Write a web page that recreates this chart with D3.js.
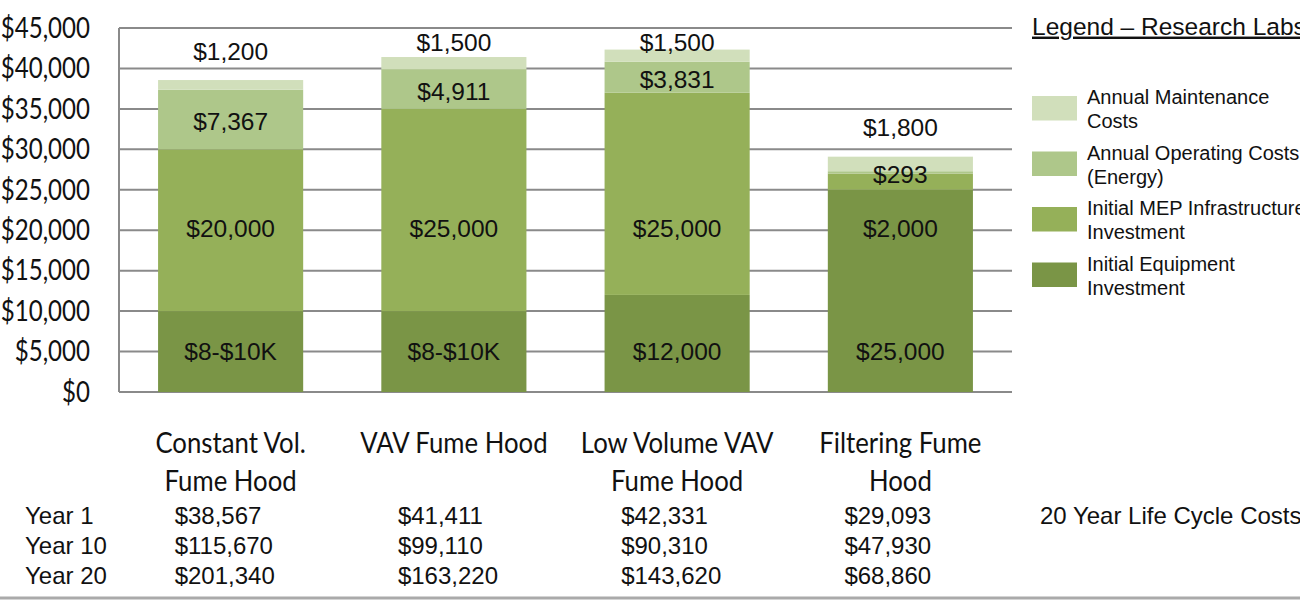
<!DOCTYPE html>
<html>
<head>
<meta charset="utf-8">
<script src="https://cdn.jsdelivr.net/npm/d3@7"></script>
<style>
  body { margin: 0; background: #fff; }
  .arial { font-family: "Liberation Sans", Arial, sans-serif; fill: #111; }
  .calib { font-family: Lato, "Open Sans", sans-serif; fill: #111; }
</style>
</head>
<body>
<script>
  var width = 1300;
  var height = 600;

  // chart data
  var categories = [["Constant Vol.", "Fume Hood"], ["VAV Fume Hood"], ["Low Volume VAV", "Fume Hood"], ["Filtering Fume", "Hood"]];
  var equipment = [10000, 10000, 12000, 25000];
  var mep = [20000, 25000, 25000, 2000];
  var operating = [7367, 4911, 3831, 293];
  var maintenance = [1200, 1500, 1500, 1800];
  var equipmentLabels = ["$8-$10K", "$8-$10K", "$12,000", "$25,000"];
  var yTicks = [0, 5000, 10000, 15000, 20000, 25000, 30000, 35000, 40000, 45000];

  var seriesNames = ["Annual Maintenance Costs", "Annual Operating Costs (Energy)", "Initial MEP Infrastructure Investment", "Initial Equipment Investment"];
  var legendLines = [["Annual Maintenance", "Costs"], ["Annual Operating Costs", "(Energy)"], ["Initial MEP Infrastructure", "Investment"], ["Initial Equipment", "Investment"]];
  var colors = ["#d1dfbb", "#aec78a", "#95b059", "#7a9546"];

  var yearLabels = ["Year 1", "Year 10", "Year 20"];
  var yearCosts = [
    [38567, 41411, 42331, 29093],
    [115670, 99110, 90310, 47930],
    [201340, 163220, 143620, 68860]
  ];
  var tableNote = "20 Year Life Cycle Costs";

  var money = d3.format("$,");

  var svg = d3.select("body")
    .append("svg")
    .attr("width", width)
    .attr("height", height);

  var x = d3.scaleBand()
    .domain(d3.range(categories.length))
    .range([119, 1012])
    .paddingInner(0.35)
    .paddingOuter(0.175);

  var y = d3.scaleLinear()
    .domain([0, 45000])
    .range([392, 28]);

  // gridlines
  svg.append("g")
    .selectAll("line")
    .data(yTicks)
    .enter()
    .append("line")
    .attr("x1", 119)
    .attr("x2", 1012)
    .attr("y1", function(d) { return y(d); })
    .attr("y2", function(d) { return y(d); })
    .style("stroke", "#8a8a8a")
    .style("stroke-width", 2);

  svg.append("line")
    .attr("x1", 119).attr("x2", 119)
    .attr("y1", y(45000)).attr("y2", y(0))
    .style("stroke", "#8a8a8a")
    .style("stroke-width", 2);

  // y tick labels (condensed a bit to look like the original Calibri)
  svg.append("g")
    .selectAll("text")
    .data(yTicks)
    .enter()
    .append("text")
    .attr("class", "calib")
    .attr("transform", function(d) { return "translate(90," + y(d) + ") scale(0.86,1)"; })
    .attr("dy", "0.35em")
    .attr("text-anchor", "end")
    .style("font-size", "28px")
    .text(function(d) { return money(d); });

  // stack bottom -> top: equipment, mep, operating, maintenance
  var rows = categories.map(function(c, i) {
    return { i: i, equipment: equipment[i], mep: mep[i], operating: operating[i], maintenance: maintenance[i] };
  });
  var keys = ["equipment", "mep", "operating", "maintenance"];
  var stack = d3.stack().keys(keys)(rows);
  var keyColor = { equipment: colors[3], mep: colors[2], operating: colors[1], maintenance: colors[0] };

  svg.append("g")
    .selectAll("g")
    .data(stack)
    .enter()
    .append("g")
    .style("fill", function(s) { return keyColor[s.key]; })
    .selectAll("rect")
    .data(function(s) { return s; })
    .enter()
    .append("rect")
    .attr("x", function(d) { return x(d.data.i); })
    .attr("width", x.bandwidth())
    .attr("y", function(d) { return y(d[1]); })
    .attr("height", function(d) { return y(d[0]) - y(d[1]); });

  // segment labels
  var labels = svg.append("g");
  rows.forEach(function(r, i) {
    var cx = x(i) + x.bandwidth() / 2;
    var top = y(stack[3][i][1]);
    var items = [
      { t: equipmentLabels[i], y: y(5000) },
      { t: money(r.mep), y: y(20000) - 2 },
      { t: money(r.operating), y: (y(stack[2][i][0]) + y(stack[2][i][1])) / 2 + 2 },
      { t: money(r.maintenance), y: Math.max(top - 29, 42) }
    ];
    items.forEach(function(it) {
      labels.append("text")
        .attr("class", "arial")
        .attr("x", cx)
        .attr("y", it.y)
        .attr("dy", "0.35em")
        .attr("text-anchor", "middle")
        .style("font-size", "24.5px")
        .text(it.t);
    });
  });

  // category labels
  svg.append("g")
    .selectAll("text")
    .data(categories)
    .enter()
    .append("text")
    .attr("class", "calib")
    .attr("text-anchor", "middle")
    .attr("transform", function(d, i) { return "translate(" + (x(i) + x.bandwidth() / 2) + ",443) scale(0.92,1)"; })
    .style("font-size", "28px")
    .each(function(lines) {
      d3.select(this).selectAll("tspan")
        .data(lines)
        .enter()
        .append("tspan")
        .attr("x", 0)
        .attr("y", function(d, j) { return j * 38; })
        .attr("dy", "0.35em")
        .text(function(d) { return d; });
    });

  // legend
  var lx = 1032;
  svg.append("text")
    .attr("class", "arial")
    .attr("x", lx)
    .attr("y", 26)
    .attr("dy", "0.35em")
    .style("font-size", "24.5px")
    .style("text-decoration", "underline")
    .text("Legend \u2013 Research Labs");

  var leg = svg.append("g")
    .selectAll("g")
    .data(seriesNames)
    .enter()
    .append("g")
    .attr("transform", function(d, i) { return "translate(" + lx + "," + (96 + i * 55.5) + ")"; });

  leg.append("rect")
    .attr("width", 45)
    .attr("height", 24.5)
    .style("fill", function(d, i) { return colors[i]; });

  leg.append("text")
    .attr("class", "arial")
    .style("font-size", "20px")
    .each(function(d, i) {
      d3.select(this).selectAll("tspan")
        .data(legendLines[i])
        .enter()
        .append("tspan")
        .attr("x", 55)
        .attr("y", function(t, j) { return 1 + j * 24; })
        .attr("dy", "0.35em")
        .text(function(t) { return t; });
    });

  // life cycle cost table
  var table = svg.append("g");
  yearLabels.forEach(function(lab, r) {
    var ty = 516 + r * 30;
    table.append("text")
      .attr("class", "arial")
      .attr("x", 25)
      .attr("y", ty)
      .attr("dy", "0.35em")
      .style("font-size", "24px")
      .text(lab);
    yearCosts[r].forEach(function(v, i) {
      table.append("text")
        .attr("class", "arial")
        .attr("x", x(i) + x.bandwidth() / 2 - 56)
        .attr("y", ty)
        .attr("dy", "0.35em")
        .style("font-size", "24px")
        .text(money(v));
    });
  });
  table.append("text")
    .attr("class", "arial")
    .attr("x", lx + 8)
    .attr("y", 516)
    .attr("dy", "0.35em")
    .style("font-size", "24px")
    .text(tableNote);

  svg.append("line")
    .attr("x1", 0).attr("x2", width)
    .attr("y1", 598).attr("y2", 598)
    .style("stroke", "#aaaaaa")
    .style("stroke-width", 3);
</script>
</body>
</html>
